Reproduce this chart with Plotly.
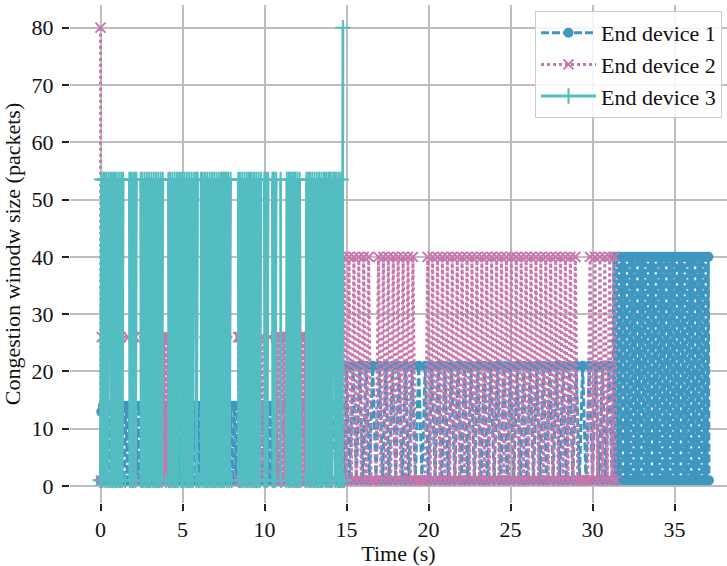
import plotly.graph_objects as go

T = 53.5  # plateau level of end device 3

# ---------------- data ----------------
# End device 1 (blue)
d1_t = [0.0, 0.05,
        0.15, 0.25, 0.35, 0.45, 0.55, 0.65, 0.75, 0.85, 0.95, 1.05,
        1.15, 1.25, 1.35, 1.45, 1.55, 1.65, 1.75, 1.85, 1.95, 2.05,
        2.15, 2.25, 2.35, 2.45, 2.55, 2.65, 2.75, 2.85, 2.95, 3.05,
        3.15, 3.25, 3.35, 3.45, 3.55, 3.65, 3.75, 3.85, 3.95, 4.05,
        4.15, 4.25, 4.35, 4.45, 4.55, 4.65, 4.75, 4.85, 4.95, 5.05,
        5.15, 5.25, 5.35, 5.45, 5.55, 5.65, 5.75, 5.85, 5.95, 6.05,
        6.15, 6.25, 6.35, 6.45, 6.55, 6.65, 6.75, 6.85, 6.95, 7.05,
        7.15, 7.25, 7.35, 7.45, 7.55, 7.65, 7.75, 7.85, 7.95, 8.05,
        8.15, 8.25, 8.35, 8.45, 8.55, 8.65, 8.75, 8.85, 8.95, 9.05,
        9.15, 9.25, 9.35, 9.45, 9.55, 9.65, 9.75, 9.85, 9.95, 10.05,
        10.15, 10.25, 10.35, 10.45, 10.55,
        10.8, 11.1, 11.4, 11.7, 12.0, 12.3, 12.6, 12.9, 13.2, 13.5,
        13.8, 14.1, 14.4, 14.7, 14.9,
        15.0, 15.2, 15.4, 15.6, 15.8, 16.0, 16.2, 16.4, 16.6, 16.8,
        17.0, 17.2, 17.4, 17.6, 17.8, 18.0, 18.2, 18.4, 18.6, 18.8,
        19.0, 19.2, 19.4, 19.6, 19.8, 20.0, 20.2, 20.4, 20.6, 20.8,
        21.0, 21.2, 21.4, 21.6, 21.8, 22.0, 22.2, 22.4, 22.6, 22.8,
        23.0, 23.2, 23.4, 23.6, 23.8, 24.0, 24.2, 24.4, 24.6, 24.8,
        25.0, 25.2, 25.4, 25.6, 25.8, 26.0, 26.2, 26.4, 26.6, 26.8,
        27.0, 27.2, 27.4, 27.6, 27.8, 28.0, 28.2, 28.4, 28.6, 28.8,
        29.0, 29.2, 29.4, 29.6, 29.8, 30.0, 30.2, 30.4, 30.6, 30.8,
        31.0, 31.2,
        31.30, 31.38, 31.46, 31.54, 31.62, 31.70, 31.78, 31.86, 31.94, 32.02,
        32.10, 32.18, 32.26, 32.34, 32.42, 32.50, 32.58, 32.66, 32.74, 32.82,
        32.90, 32.98, 33.06, 33.14, 33.22, 33.30, 33.38, 33.46, 33.54, 33.62,
        33.70, 33.78, 33.86, 33.94, 34.02, 34.10, 34.18, 34.26, 34.34, 34.42,
        34.50, 34.58, 34.66, 34.74, 34.82, 34.90, 34.98, 35.06, 35.14, 35.22,
        35.30, 35.38, 35.46, 35.54, 35.62, 35.70, 35.78, 35.86, 35.94, 36.02,
        36.10, 36.18, 36.26, 36.34, 36.42, 36.50, 36.58, 36.66, 36.74, 36.82,
        36.90, 36.98, 37.06, 37.10]
d1_v = [1, 13,
        14, 1, 14, 1, 14, 1, 14, 1, 14, 1,
        14, 1, 14, 1, 14, 1, 14, 1, 14, 1,
        14, 1, 14, 1, 14, 1, 14, 1, 14, 1,
        14, 1, 14, 1, 14, 1, 14, 1, 14, 1,
        14, 1, 14, 1, 14, 1, 14, 1, 14, 1,
        14, 1, 14, 1, 14, 1, 14, 1, 14, 1,
        14, 1, 14, 1, 14, 1, 14, 1, 14, 1,
        14, 1, 14, 1, 14, 1, 14, 1, 14, 1,
        14, 1, 14, 1, 14, 1, 14, 1, 14, 1,
        14, 1, 14, 1, 14, 1, 14, 1, 14, 1,
        14, 1, 14, 1, 14,
        1, 14, 1, 14, 1, 14, 1, 14, 1, 14,
        1, 14, 1, 14, 1,
        21, 1, 21, 1, 21, 1, 21, 1, 21, 1,
        21, 1, 21, 1, 21, 1, 21, 1, 21, 1,
        21, 1, 21, 1, 21, 1, 21, 1, 21, 1,
        21, 1, 21, 1, 21, 1, 21, 1, 21, 1,
        21, 1, 21, 1, 21, 1, 21, 1, 21, 1,
        21, 1, 21, 1, 21, 1, 21, 1, 21, 1,
        21, 1, 21, 1, 21, 1, 21, 1, 21, 1,
        21, 1, 21, 1, 21, 1, 21, 1, 21, 1,
        21, 1,
        40, 1, 40, 1, 40, 1, 40, 1, 40, 1,
        40, 1, 40, 1, 40, 1, 40, 1, 40, 1,
        40, 1, 40, 1, 40, 1, 40, 1, 40, 1,
        40, 1, 40, 1, 40, 1, 40, 1, 40, 1,
        40, 1, 40, 1, 40, 1, 40, 1, 40, 1,
        40, 1, 40, 1, 40, 1, 40, 1, 40, 1,
        40, 1, 40, 1, 40, 1, 40, 1, 40, 1,
        40, 1, 40, 1]

# End device 2 (pink)
d2_t = [0.0, 0.03, 0.08, 1.22, 1.7, 2.0, 2.05, 2.1, 3.75, 3.8,
        3.85, 3.9, 3.95, 4.0, 4.05, 4.1, 4.15, 4.8, 8.4, 8.45,
        8.5, 8.55, 8.6, 8.65, 8.7, 9.0, 9.05, 9.1, 9.8, 9.85,
        9.9, 10.3, 10.7, 10.75, 10.8, 10.85, 10.9, 10.95, 11.0, 11.05,
        11.1, 11.15, 11.2, 11.25, 11.3, 11.35, 11.4, 11.45, 11.5, 12.2,
        12.25, 12.3, 12.35, 12.4, 12.45, 12.5, 12.55, 12.6, 12.65, 12.7,
        14.3, 14.35, 14.8,
        14.85, 15.0, 15.15, 15.3, 15.45, 15.6, 15.75, 15.9, 16.05, 16.2,
        16.35, 16.5, 16.65, 16.8, 16.95, 17.1, 17.25, 17.4, 17.55, 17.7,
        17.85, 18.0, 18.15, 18.3, 18.45, 18.6, 18.75, 18.9, 19.05, 19.2,
        19.35, 19.5, 19.65, 19.8, 19.95, 20.1, 20.25, 20.4, 20.55, 20.7,
        20.85, 21.0, 21.15, 21.3, 21.45, 21.6, 21.75, 21.9, 22.05, 22.2,
        22.35, 22.5, 22.65, 22.8, 22.95, 23.1, 23.25, 23.4, 23.55, 23.7,
        23.85, 24.0, 24.15, 24.3, 24.45, 24.6, 24.75, 24.9, 25.05, 25.2,
        25.35, 25.5, 25.65, 25.8, 25.95, 26.1, 26.25, 26.4, 26.55, 26.7,
        26.85, 27.0, 27.15, 27.3, 27.45, 27.6, 27.75, 27.9, 28.05, 28.2,
        28.35, 28.5, 28.65, 28.8, 28.95, 29.1, 29.25, 29.4, 29.55, 29.7,
        29.85, 30.0, 30.15, 30.3, 30.45, 30.6, 30.75, 30.9, 31.05, 31.2,
        31.35, 31.42]
d2_v = [80, 1, 26, 26, 26, 26, 1, 26, 26, 1,
        26, 1, 26, 1, 26, 1, 26, 26, 26, 1,
        26, 1, 26, 1, 26, 26, 1, 26, 26, 1,
        26, 26, 26, 1, 26, 1, 26, 1, 26, 1,
        26, 1, 26, 1, 26, 1, 26, 1, 26, 26,
        1, 26, 1, 26, 1, 26, 1, 26, 1, 26,
        26, 1, 1,
        40, 1, 40, 1, 40, 1, 40, 1, 40, 1,
        40, 1, 1, 1, 40, 1, 40, 1, 40, 1,
        40, 1, 40, 1, 40, 1, 40, 1, 40, 1,
        1, 1, 1, 1, 40, 1, 40, 1, 40, 1,
        40, 1, 40, 1, 40, 1, 40, 1, 40, 1,
        40, 1, 40, 1, 40, 1, 40, 1, 40, 1,
        40, 1, 40, 1, 40, 1, 40, 1, 40, 1,
        40, 1, 40, 1, 40, 1, 40, 1, 40, 1,
        40, 1, 40, 1, 40, 1, 40, 1, 40, 1,
        40, 1, 40, 1, 40, 1, 1, 1, 1, 1,
        40, 1, 40, 1, 40, 1, 40, 1, 40, 1,
        40, 1]

# End device 3 (cyan)
d3_t = [0.0, 0.06, 0.12, 0.18, 0.27, 0.30, 0.37, 0.44, 0.50,
        0.62, 0.65, 0.71, 0.77, 0.82,
        0.88, 0.91, 0.98, 1.05, 1.12, 1.19, 1.26, 1.32, 1.38,
        1.76, 1.79, 1.86, 1.93, 1.99,
        2.10, 2.13, 2.19,
        2.45, 2.48, 2.55, 2.62, 2.69, 2.76, 2.83, 2.90, 2.97, 3.04, 3.11,
        3.18, 3.25, 3.32, 3.39, 3.46, 3.53, 3.60, 3.67, 3.74, 3.80,
        4.14, 4.17, 4.24, 4.31, 4.38, 4.45, 4.52, 4.59, 4.66, 4.72, 4.78,
        4.89, 4.92, 4.99, 5.06, 5.13, 5.20, 5.27, 5.34, 5.41, 5.48, 5.55, 5.62, 5.69,
        5.82, 5.85, 5.92,
        6.13, 6.16, 6.23, 6.30, 6.37, 6.44, 6.51, 6.58, 6.65, 6.72, 6.79,
        6.86, 6.93, 7.00, 7.07, 7.14, 7.21, 7.28, 7.35, 7.42, 7.46,
        7.51, 7.54, 7.60,
        7.69, 7.72, 7.79, 7.86, 7.93,
        8.40, 8.43, 8.50, 8.57, 8.64, 8.71, 8.78, 8.85, 8.92, 8.99, 9.05,
        9.12, 9.15, 9.22, 9.29, 9.36, 9.43, 9.50, 9.57, 9.64, 9.71, 9.78,
        9.99, 10.02, 10.09, 10.16, 10.22,
        10.48, 10.51, 10.58, 10.65, 10.71, 10.98, 11.0, 11.34, 11.36,
        11.49, 11.52, 11.59, 11.65, 11.70,
        11.76, 11.79, 11.86, 11.93, 12.00, 12.07, 12.14, 12.20, 12.54, 12.56,
        12.67, 12.70, 12.77, 12.84, 12.91, 12.98, 13.05, 13.12, 13.19, 13.26, 13.33, 13.40, 13.47, 13.54, 13.61,
        13.69, 13.72, 13.79, 13.86, 13.92,
        13.95, 13.98, 14.05, 14.12, 14.19,
        14.30, 14.33, 14.40, 14.47, 14.54, 14.61, 14.68, 14.74, 14.78,
        None,
        0.0, 0.5, 1.0, 1.5, 2.0, 2.5, 3.0, 3.5, 4.0, 4.5,
        5.0, 5.5, 6.0, 6.5, 7.0, 7.5, 8.0, 8.5, 9.0, 9.5,
        10.0, 10.5, 11.0, 11.5, 12.0, 12.5, 13.0, 13.5, 14.0, 14.5,
        14.85]
d3_v = [1, T, 1, T, T, 1, T, 1, T,
        T, 1, T, 1, T,
        T, 1, T, 1, T, 1, T, 1, T,
        T, 1, T, 1, T,
        T, 1, T,
        T, 1, T, 1, T, 1, T, 1, T, 1, T,
        1, T, 1, T, 1, T, 1, T, 1, T,
        T, 1, T, 1, T, 1, T, 1, T, 1, T,
        T, 1, T, 1, T, 1, T, 1, T, 1, T, 1, T,
        T, 1, T,
        T, 1, T, 1, T, 1, T, 1, T, 1, T,
        1, T, 1, T, 1, T, 1, T, 1, T,
        T, 1, T,
        T, 1, T, 1, T,
        T, 1, T, 1, T, 1, T, 1, T, 1, T,
        T, 1, T, 1, T, 1, T, 1, T, 1, T,
        T, 1, T, 1, T,
        T, 1, T, 1, T, T, 1, 1, T,
        T, 1, T, 1, T,
        T, 1, T, 1, T, 1, T, 1, 1, T,
        T, 1, T, 1, T, 1, T, 1, T, 1, T, 1, T, 1, T,
        T, 1, T, 1, T,
        T, 1, T, 1, T,
        T, 1, T, 1, T, 1, T, 1, 80,
        None,
        1, 1, 1, 1, 1, 1, 1, 1, 1, 1,
        1, 1, 1, 1, 1, 1, 1, 1, 1, 1,
        1, 1, 1, 1, 1, 1, 1, 1, 1, 1,
        1]

assert len(d1_t) == len(d1_v)
assert len(d2_t) == len(d2_v)
assert len(d3_t) == len(d3_v)

names = ["End device 1", "End device 2", "End device 3"]
x_ticks = [0, 5, 10, 15, 20, 25, 30, 35]
y_ticks = [0, 10, 20, 30, 40, 50, 60, 70, 80]

# ---------------- figure ----------------
FONT = "Liberation Serif, Times New Roman, serif"
c1, c2, c3 = "#3f97bf", "#c777ac", "#53bdc2"

fig = go.Figure()
fig.add_trace(go.Scatter(
    x=d1_t, y=d1_v, name=names[0], mode="lines+markers",
    line=dict(color=c1, width=3, dash="8px,3px", simplify=False),
    marker=dict(symbol="circle", size=10, color=c1)))
fig.add_trace(go.Scatter(
    x=d2_t, y=d2_v, name=names[1], mode="lines+markers",
    line=dict(color=c2, width=3, dash="3px,3px", simplify=False),
    marker=dict(symbol="x-thin", size=10, color=c2, line=dict(color=c2, width=2))))
fig.add_trace(go.Scatter(
    x=d3_t, y=d3_v, name=names[2], mode="lines+markers",
    line=dict(color=c3, width=2.8, simplify=False),
    marker=dict(symbol="cross-thin", size=11, color=c3, line=dict(color=c3, width=2))))

axis_common = dict(
    showgrid=True, gridcolor="#bdbdbd", gridwidth=1.5,
    zeroline=False, showline=False,
    ticks="outside", ticklen=7, tickwidth=1.5, tickcolor="#222222",
    tickfont=dict(family=FONT, size=22, color="#111111"),
)

fig.update_layout(
    width=727, height=566,
    margin=dict(l=70, r=0, t=5, b=63),
    paper_bgcolor="white", plot_bgcolor="white",
    font=dict(family=FONT, size=22, color="#111111"),
    xaxis=dict(range=[-1.86, 38.2], tickvals=x_ticks,
               title=dict(text="Time (s)", font=dict(family=FONT, size=22), standoff=4),
               **axis_common),
    yaxis=dict(range=[-2.95, 83.95], tickvals=y_ticks, ticklabelstandoff=4,
               title=dict(text="Congestion winodw size (packets)", font=dict(family=FONT, size=22), standoff=6),
               **axis_common),
    legend=dict(x=0.9924, y=0.988, xanchor="right", yanchor="top", itemwidth=55,
                bgcolor="rgba(255,255,255,0.85)", bordercolor="#cccccc", borderwidth=1,
                font=dict(family=FONT, size=22, color="#111111")),
    showlegend=True,
)

fig.write_html("out.html")
